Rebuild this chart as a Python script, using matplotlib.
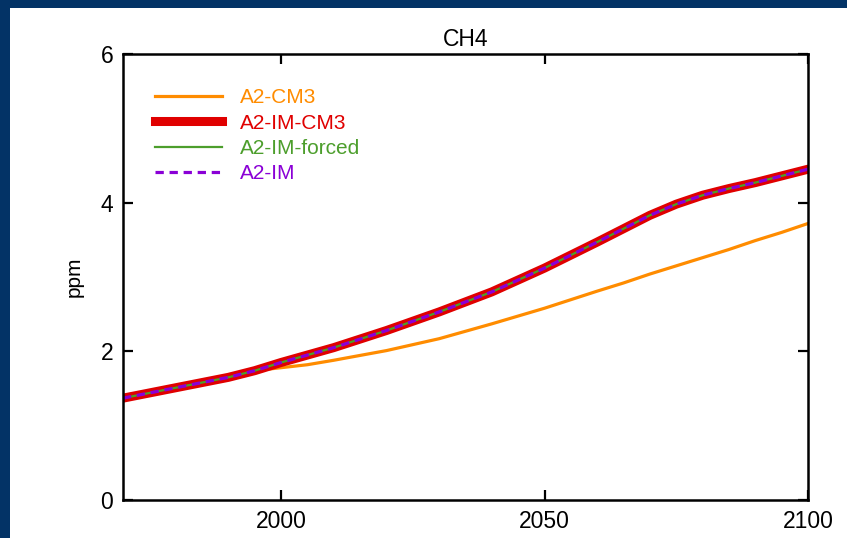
import matplotlib
matplotlib.use("Agg")
import matplotlib.pyplot as plt
from matplotlib.patches import Rectangle

plt.rcParams['font.family'] = ['Liberation Sans', 'DejaVu Sans']

# CH4 concentration (ppm) for the A2 runs
years = [1970, 1980, 1990, 1995, 2000, 2005, 2010, 2020, 2030, 2040,
         2050, 2060, 2065, 2070, 2075, 2080, 2085, 2090, 2095, 2100]
ch4_cm3 = [1.37, 1.51, 1.65, 1.74, 1.78, 1.82, 1.88, 2.01, 2.17, 2.37,
           2.58, 2.81, 2.92, 3.04, 3.15, 3.26, 3.37, 3.49, 3.60, 3.72]
ch4_im_cm3 = [1.37, 1.51, 1.65, 1.74, 1.85, 1.95, 2.05, 2.28, 2.53, 2.80,
              3.12, 3.47, 3.65, 3.83, 3.98, 4.10, 4.19, 4.27, 4.36, 4.45]
ch4_im_forced = ch4_im_cm3
ch4_im = ch4_im_cm3

navy = '#033366'

fig = plt.figure(figsize=(8.47, 5.38), dpi=100, facecolor=navy)
# white panel inside the navy border
fig.patches.append(Rectangle((10 / 847, 0), 1, 1 - 8 / 538,
                             transform=fig.transFigure, facecolor='white',
                             edgecolor='none', zorder=-10))

ax = fig.add_axes([123 / 847, 38 / 538, (808 - 123) / 847, (500 - 54) / 538])
ax.set_zorder(1)
ax.patch.set_alpha(0)

ax.plot(years, ch4_cm3, color='#ff8c00', lw=2.3, label='A2-CM3')
ax.plot(years, ch4_im_cm3, color='#e00000', lw=6.5, label='A2-IM-CM3')
ax.plot(years, ch4_im_forced, color='#4c9e2c', lw=1.6, label='A2-IM-forced')
ax.plot(years, ch4_im, color='#8a00d6', lw=2.3, ls=(0, (2.6, 1.8)),
        label='A2-IM')

ax.set_xlim(1970, 2100)
ax.set_ylim(0, 6)
ax.set_xticks([2000, 2050, 2100])
ax.set_yticks([0, 2, 4, 6])
ax.tick_params(direction='in', length=7, width=1.6, top=True, right=True,
               labeltop=False, labelright=False, labelsize=16.5, pad=7)
for s in ax.spines.values():
    s.set_linewidth(1.8)

ax.set_title('CH4', fontsize=16.5, pad=6)
ax.set_ylabel('ppm', fontsize=15, labelpad=12)

leg = ax.legend(loc='upper left', bbox_to_anchor=(0.02, 0.965), frameon=False,
                fontsize=15, handlelength=3.2, handletextpad=0.85,
                labelspacing=0.3, labelcolor='linecolor')

fig.savefig('out.png', dpi=100, facecolor=navy)
